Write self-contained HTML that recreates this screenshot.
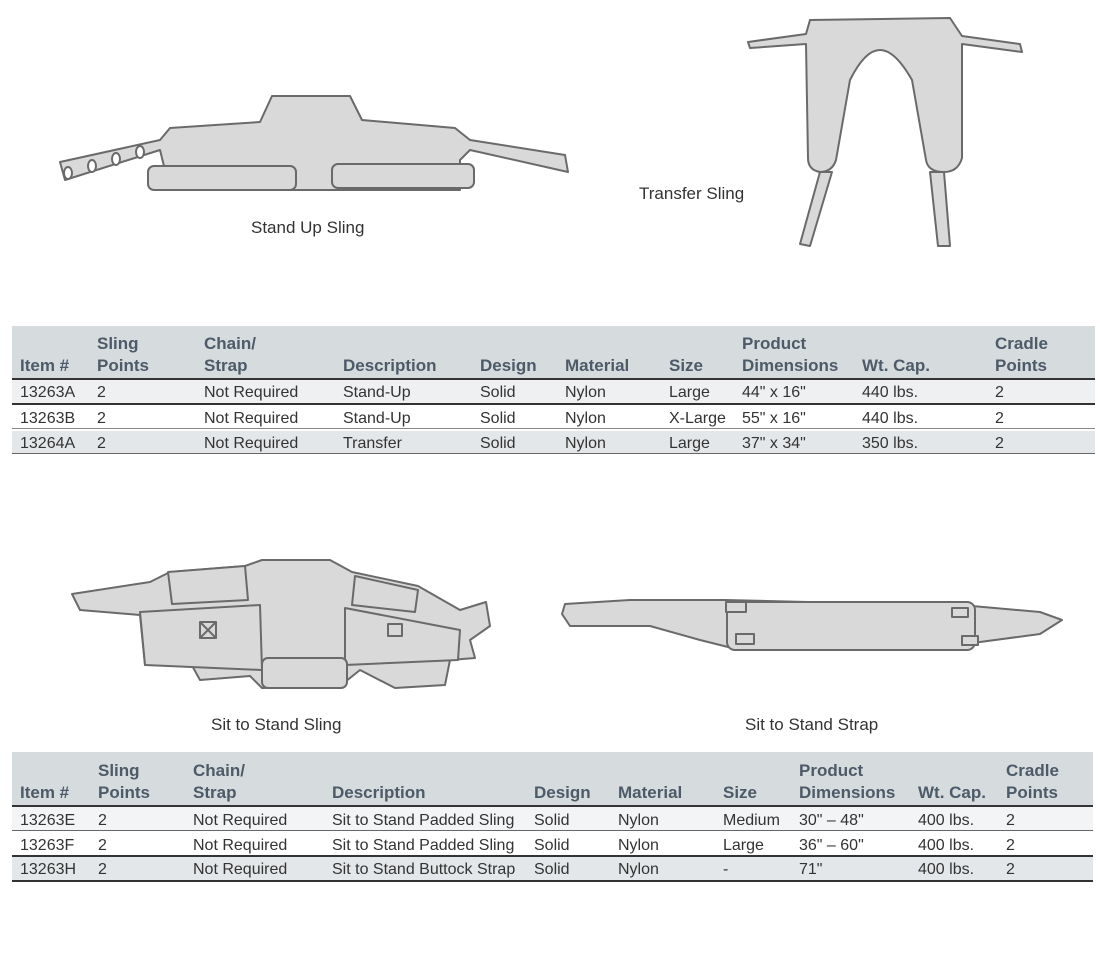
<!DOCTYPE html>
<html><head><style>
body{margin:0;width:1100px;height:973px;background:#fff;position:relative;font-family:"Liberation Sans",sans-serif;color:#333;overflow:hidden}
.t{position:absolute;font-size:17px;color:#333;white-space:nowrap}
.hd{position:absolute;background:#d6dbde}
.h{position:absolute;font-weight:bold;font-size:17px;color:#4d5a67;line-height:22px;white-space:nowrap}
.c{position:absolute;font-size:16px;color:#333;white-space:nowrap}
.ln{position:absolute;height:2px;background:#333}
.row{position:absolute}
svg{position:absolute;left:0;top:0}
</style></head><body>
<svg width="1100" height="973" fill="#d9d9d9" stroke="#6a6a6a" stroke-width="2" stroke-linejoin="round">
<path d="M60 162 L160 140 L170 128 L260 122 L272 96 L350 96 L362 120 L455 128 L470 140 L565 155 L568 172 L470 150 L460 160 L460 190 L170 190 L160 150 L65 180 Z"/>
<rect x="148" y="166" width="148" height="24" rx="6"/>
<rect x="332" y="164" width="142" height="24" rx="6"/>
<g fill="#fff"><ellipse cx="68" cy="173" rx="4" ry="6"/><ellipse cx="92" cy="166" rx="4" ry="6"/><ellipse cx="116" cy="159" rx="4" ry="6"/><ellipse cx="140" cy="152" rx="4" ry="6"/></g>
<path d="M810 20 L950 18 L962 36 L1020 44 L1022 52 L962 44 L962 158 Q958 172 944 172 Q928 172 926 160 L912 80 Q895 50 880 50 Q865 50 850 80 L836 160 Q832 172 820 172 Q808 170 808 158 L806 44 L750 48 L748 42 L806 34 Z"/>
<path d="M820 172 L800 244 L810 246 L832 172 Z"/>
<path d="M930 172 L938 246 L950 246 L944 172 Z"/>
<path d="M72 594 L150 582 L170 572 L245 566 L262 560 L330 560 L352 572 L418 586 L460 610 L486 602 L490 626 L470 640 L475 658 L450 660 L445 685 L395 688 L360 670 L340 686 L262 688 L250 676 L200 680 L190 662 L145 665 L140 615 L80 610 Z"/>
<path d="M140 612 L260 605 L262 670 L145 665 Z"/>
<path d="M345 608 L460 630 L458 660 L345 665 Z"/>
<rect x="262" y="658" width="85" height="30" rx="6"/>
<path d="M168 572 L245 566 L248 600 L172 604 Z"/>
<path d="M355 576 L418 590 L415 612 L352 605 Z"/>
<rect x="200" y="622" width="16" height="16" fill="#d9d9d9"/><path d="M200 622 L216 638 M216 622 L200 638"/>
<rect x="388" y="624" width="14" height="12"/>
<path d="M565 604 L630 600 L725 600 L972 606 L1040 612 L1062 620 L1040 634 L980 642 L960 644 L740 650 L700 640 L650 626 L570 626 L562 614 Z"/>
<rect x="727" y="602" width="248" height="48" rx="8"/>
<rect x="726" y="602" width="20" height="10"/><rect x="952" y="608" width="16" height="9"/><rect x="736" y="634" width="18" height="10"/><rect x="962" y="636" width="16" height="9"/>
</svg>
<div class="t" style="left:251px;top:218px">Stand Up Sling</div>
<div class="t" style="left:639px;top:184px">Transfer Sling</div>
<div class="t" style="left:211px;top:715px">Sit to Stand Sling</div>
<div class="t" style="left:745px;top:715px">Sit to Stand Strap</div>

<div class="hd" style="left:12px;top:326px;width:1083px;height:52px"></div>
<div class="row" style="left:12px;top:380px;width:1083px;height:24px;background:#eef0f1"></div>
<div class="row" style="left:12px;top:431px;width:1083px;height:23px;background:#e4e7e9"></div>
<div class="ln" style="left:12px;top:378px;width:1083px"></div>
<div class="ln" style="left:12px;top:403px;width:1083px"></div>
<div class="ln" style="left:12px;top:428px;width:1083px;height:1px;background:#888"></div>
<div class="ln" style="left:12px;top:453px;width:1083px;height:1px;background:#666"></div>
<div class="h" style="left:20px;top:355px">Item #</div>
<div class="h" style="left:97px;top:333px">Sling<br>Points</div>
<div class="h" style="left:204px;top:333px">Chain/<br>Strap</div>
<div class="h" style="left:343px;top:355px">Description</div>
<div class="h" style="left:480px;top:355px">Design</div>
<div class="h" style="left:565px;top:355px">Material</div>
<div class="h" style="left:669px;top:355px">Size</div>
<div class="h" style="left:742px;top:333px">Product<br>Dimensions</div>
<div class="h" style="left:862px;top:355px">Wt. Cap.</div>
<div class="h" style="left:995px;top:333px">Cradle<br>Points</div>
<div style="position:absolute;left:0;top:384px">
<div class="c" style="left:20px">13263A</div><div class="c" style="left:97px">2</div><div class="c" style="left:204px">Not Required</div><div class="c" style="left:343px">Stand-Up</div><div class="c" style="left:480px">Solid</div><div class="c" style="left:565px">Nylon</div><div class="c" style="left:669px">Large</div><div class="c" style="left:742px">44" x 16"</div><div class="c" style="left:862px">440 lbs.</div><div class="c" style="left:995px">2</div>
</div>
<div style="position:absolute;left:0;top:410px">
<div class="c" style="left:20px">13263B</div><div class="c" style="left:97px">2</div><div class="c" style="left:204px">Not Required</div><div class="c" style="left:343px">Stand-Up</div><div class="c" style="left:480px">Solid</div><div class="c" style="left:565px">Nylon</div><div class="c" style="left:669px">X-Large</div><div class="c" style="left:742px">55" x 16"</div><div class="c" style="left:862px">440 lbs.</div><div class="c" style="left:995px">2</div>
</div>
<div style="position:absolute;left:0;top:435px">
<div class="c" style="left:20px">13264A</div><div class="c" style="left:97px">2</div><div class="c" style="left:204px">Not Required</div><div class="c" style="left:343px">Transfer</div><div class="c" style="left:480px">Solid</div><div class="c" style="left:565px">Nylon</div><div class="c" style="left:669px">Large</div><div class="c" style="left:742px">37" x 34"</div><div class="c" style="left:862px">350 lbs.</div><div class="c" style="left:995px">2</div>
</div>

<div class="hd" style="left:12px;top:752px;width:1081px;height:53px"></div>
<div class="row" style="left:12px;top:807px;width:1081px;height:24px;background:#f3f4f5"></div>
<div class="row" style="left:12px;top:857px;width:1081px;height:23px;background:#e4e7e9"></div>
<div class="ln" style="left:12px;top:805px;width:1081px"></div>
<div class="ln" style="left:12px;top:830px;width:1081px;height:1px;background:#666"></div>
<div class="ln" style="left:12px;top:855px;width:1081px"></div>
<div class="ln" style="left:12px;top:880px;width:1081px"></div>
<div class="h" style="left:20px;top:782px">Item #</div>
<div class="h" style="left:98px;top:760px">Sling<br>Points</div>
<div class="h" style="left:193px;top:760px">Chain/<br>Strap</div>
<div class="h" style="left:332px;top:782px">Description</div>
<div class="h" style="left:534px;top:782px">Design</div>
<div class="h" style="left:618px;top:782px">Material</div>
<div class="h" style="left:723px;top:782px">Size</div>
<div class="h" style="left:799px;top:760px">Product<br>Dimensions</div>
<div class="h" style="left:918px;top:782px">Wt. Cap.</div>
<div class="h" style="left:1006px;top:760px">Cradle<br>Points</div>
<div style="position:absolute;left:0;top:812px">
<div class="c" style="left:20px">13263E</div><div class="c" style="left:98px">2</div><div class="c" style="left:193px">Not Required</div><div class="c" style="left:332px">Sit to Stand Padded Sling</div><div class="c" style="left:534px">Solid</div><div class="c" style="left:618px">Nylon</div><div class="c" style="left:723px">Medium</div><div class="c" style="left:799px">30" – 48"</div><div class="c" style="left:918px">400 lbs.</div><div class="c" style="left:1006px">2</div>
</div>
<div style="position:absolute;left:0;top:837px">
<div class="c" style="left:20px">13263F</div><div class="c" style="left:98px">2</div><div class="c" style="left:193px">Not Required</div><div class="c" style="left:332px">Sit to Stand Padded Sling</div><div class="c" style="left:534px">Solid</div><div class="c" style="left:618px">Nylon</div><div class="c" style="left:723px">Large</div><div class="c" style="left:799px">36" – 60"</div><div class="c" style="left:918px">400 lbs.</div><div class="c" style="left:1006px">2</div>
</div>
<div style="position:absolute;left:0;top:861px">
<div class="c" style="left:20px">13263H</div><div class="c" style="left:98px">2</div><div class="c" style="left:193px">Not Required</div><div class="c" style="left:332px">Sit to Stand Buttock Strap</div><div class="c" style="left:534px">Solid</div><div class="c" style="left:618px">Nylon</div><div class="c" style="left:723px">-</div><div class="c" style="left:799px">71"</div><div class="c" style="left:918px">400 lbs.</div><div class="c" style="left:1006px">2</div>
</div>
</body></html>
